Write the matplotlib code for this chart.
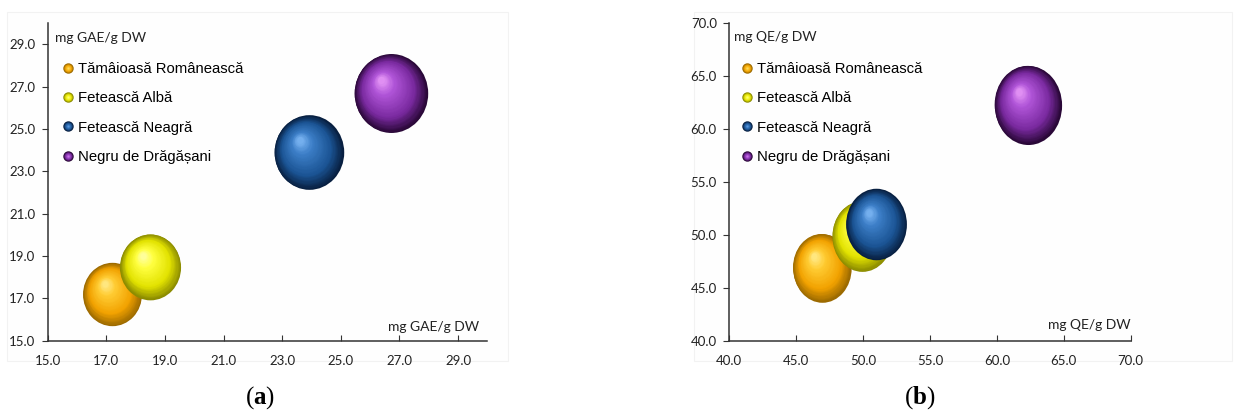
import numpy as np
import matplotlib
matplotlib.use('Agg')
import matplotlib.pyplot as plt
from matplotlib.path import Path
from matplotlib.markers import MarkerStyle
from matplotlib.colors import LinearSegmentedColormap
from matplotlib.lines import Line2D
from matplotlib.transforms import ScaledTranslation
from matplotlib.patches import Rectangle

plt.rcParams['mathtext.fontset'] = 'custom'
plt.rcParams['mathtext.rm'] = 'Liberation Serif'
plt.rcParams['mathtext.bf'] = 'Liberation Serif:bold'

# Data
cultivars = ['Tămâioasă Românească', 'Fetească Albă', 'Fetească Neagră', 'Negru de Drăgășani']
polyphenols = [17.2, 18.5, 23.9, 26.7]   # mg GAE/g DW
flavonoids = [46.9, 49.9, 51.0, 62.3]    # mg QE/g DW

# sphere shades: highlight, light, base, dark
shades = [
    ['#fff2a0', '#ffcc33', '#f2a200', '#9c6a00'],
    ['#ffffc0', '#ffff40', '#e2e200', '#8c8c00'],
    ['#8cc4ff', '#3d7fc8', '#1b5494', '#081f40'],
    ['#f4a8ff', '#b055d8', '#7a2aa0', '#2a0838'],
]
cmaps = [LinearSegmentedColormap.from_list('c%d' % i, list(zip([0, 0.3, 0.72, 1.0], c)))
         for i, c in enumerate(shades)]


def ellipse_marker(aspect):
    circ = Path.unit_circle()
    verts = circ.vertices * np.array([aspect, 1.0])
    return MarkerStyle(Path(verts, circ.codes))


def draw_bubbles(ax, fig, vals, scale, aspect):
    marker = ellipse_marker(aspect)
    nlayers = 40
    for i, v in enumerate(vals):
        s_full = scale * v
        r_pt = np.sqrt(s_full) / 2.0
        hl = np.array([-0.28 * aspect, 0.36]) * r_pt
        for k in range(nlayers):
            t = 1.0 - k / nlayers * 0.93
            off = hl * (1 - t)
            tr = ax.transData + ScaledTranslation(off[0] / 72, off[1] / 72, fig.dpi_scale_trans)
            ax.scatter([v], [v], s=s_full * t ** 2, marker=marker, color=cmaps[i](t),
                       linewidths=0, transform=tr, zorder=3 + i)


def sphere_handles():
    handles = []
    for cm in cmaps:
        parts = []
        for t in [1.0, 0.8, 0.6, 0.4, 0.2]:
            parts.append(Line2D([], [], ls='none', marker='o', markersize=7.5 * t,
                                markerfacecolor=cm(t), markeredgewidth=0))
        handles.append(tuple(parts))
    return handles


def style_axes(ax, ticks, lim, unit, ylab_pos, xlab_pos, leg_x):
    ax.set_xlim(*lim)
    ax.set_ylim(*lim)
    labels = ['%.1f' % t for t in ticks]
    ax.set_xticks(ticks)
    ax.set_yticks(ticks)
    ax.set_xticklabels(labels, fontfamily='Lato', fontsize=9.5, color='#222222')
    ax.set_yticklabels(labels, fontfamily='Lato', fontsize=9.5, color='#222222')
    ax.spines['top'].set_visible(False)
    ax.spines['right'].set_visible(False)
    for sp in ['left', 'bottom']:
        ax.spines[sp].set_linewidth(1.1)
        ax.spines[sp].set_color('#333333')
    ax.tick_params(axis='x', direction='in', length=4, width=0.8, pad=10, color='#333333')
    ax.tick_params(axis='y', direction='out', length=4, width=0.8, pad=5, color='#333333')
    ax.text(ylab_pos[0], ylab_pos[1], unit, transform=ax.transAxes, ha='left', va='center',
            fontfamily='Lato', fontsize=10, color='#222222')
    ax.text(xlab_pos[0], xlab_pos[1], unit, transform=ax.transAxes, ha='right', va='center',
            fontfamily='Lato', fontsize=10, color='#222222')
    ax.legend(sphere_handles(), cultivars, loc='upper left', bbox_to_anchor=(leg_x, 0.879),
              frameon=False, prop={'family': 'Liberation Sans', 'size': 10.7},
              handlelength=0.7, handletextpad=0.3, labelspacing=1.04,
              borderpad=0, borderaxespad=0)


fig = plt.figure(figsize=(12.34, 4.12), dpi=100)

# faint panel frames
for x0, w in [(0.006, 0.406), (0.562, 0.436)]:
    fig.patches.append(Rectangle((x0, 0.125), w, 0.845, transform=fig.transFigure,
                                 facecolor='#fefefe', edgecolor='#f2f2f2', lw=0.8, zorder=-1))

ax1 = fig.add_axes([0.0387, 0.1731, 0.3562, 0.7703])
ax1.patch.set_alpha(0)
draw_bubbles(ax1, fig, polyphenols, 121, 0.93)
style_axes(ax1, np.arange(15, 30, 2), (15, 30), 'mg GAE/g DW', (0.017, 0.954), (0.981, 0.043), 0.034)

ax2 = fig.add_axes([0.5910, 0.1731, 0.3253, 0.7703])
ax2.patch.set_alpha(0)
draw_bubbles(ax2, fig, flavonoids, 52, 0.85)
style_axes(ax2, np.arange(40, 71, 5), (40, 70), 'mg QE/g DW', (0.012, 0.957), (1.0, 0.05), 0.031)

fig.text(0.2107, 0.034, r'$(\mathbf{a})$', ha='center', va='center', fontsize=18)
fig.text(0.7455, 0.034, r'$(\mathbf{b})$', ha='center', va='center', fontsize=18)

fig.savefig('out.png', dpi=100)
